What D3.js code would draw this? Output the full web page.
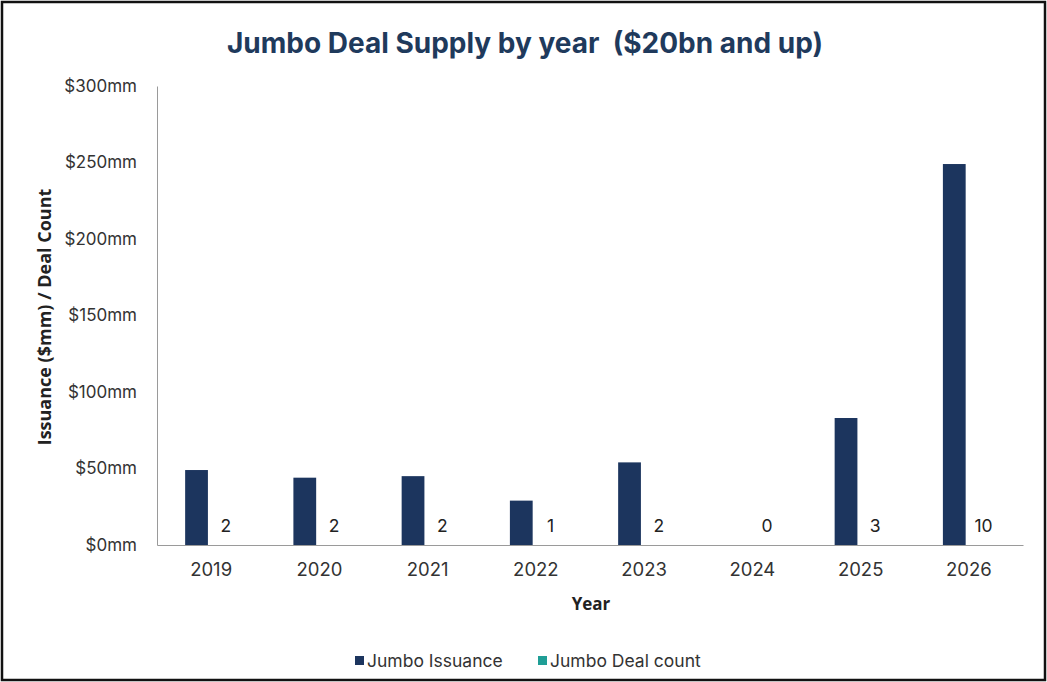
<!DOCTYPE html>
<html><head><meta charset="utf-8">
<script src="https://cdn.jsdelivr.net/npm/d3@7/dist/d3.min.js"></script>
<style>
html,body{margin:0;padding:0;background:#fff;}
svg{display:block;}
</style></head>
<body>
<svg id="chart" width="1047" height="682"></svg>
<script>
const years = ["2019","2020","2021","2022","2023","2024","2025","2026"];
const issuance = [49, 44, 45, 29, 54, 0, 83, 249];
const dealCount = [2, 2, 2, 1, 2, 0, 3, 10];
const yTicks = [0, 50, 100, 150, 200, 250, 300];
const seriesNames = ["Jumbo Issuance", "Jumbo Deal count"];
const seriesColors = ["#1c355e", "#1f9e96"];

const svg = d3.select("#chart");
const W = 1047, H = 682;
const m = {left: 157, right: 24, top: 86, bottom: 137};
const font = "Inter, 'Open Sans', sans-serif";
const font2 = "'Open Sans', Inter, sans-serif";

svg.append("rect").attr("x",2).attr("y",2).attr("width",W-4).attr("height",H-4)
  .attr("fill","#fff").attr("stroke","#111").attr("stroke-width",2.5);

const x = d3.scaleBand().domain(years).range([m.left, W - m.right]).paddingInner(0.52).paddingOuter(0.26);
const xs = d3.scaleBand().domain([0,1]).range([0, x.bandwidth()]).paddingInner(0.22);
const y = d3.scaleLinear().domain([0, 300]).range([H - m.bottom, m.top]);

// title
svg.append("text").attr("x", 525).attr("y", 53).attr("text-anchor","middle")
  .attr("font-family", font).attr("font-weight", 700).attr("font-size", 28)
  .attr("fill", "#1f3a5c").style("white-space","pre")
  .text("Jumbo Deal Supply by year  ($20bn and up)");

// y axis
const yAxis = svg.append("g").attr("transform", `translate(${m.left},0)`)
  .call(d3.axisLeft(y).tickValues(yTicks).tickSize(0).tickPadding(20).tickFormat(d => "$" + d + "mm"));
yAxis.select(".domain").attr("stroke", "#9a9a9a").attr("stroke-width", 1);
yAxis.selectAll("text").attr("font-family", font).attr("font-size", 17).attr("fill", "#333");

// x axis
const xAxis = svg.append("g").attr("transform", `translate(0,${y(0)})`)
  .call(d3.axisBottom(x).tickSize(0).tickPadding(18));
xAxis.select(".domain").attr("stroke", "#9a9a9a").attr("stroke-width", 1.2);
xAxis.selectAll("text").attr("font-family", font).attr("font-size", 18.5).attr("fill", "#333");

// bars
svg.append("g").selectAll("rect").data(years).join("rect")
  .attr("x", d => x(d) + xs(0))
  .attr("width", xs.bandwidth())
  .attr("y", (d,i) => y(issuance[i]))
  .attr("height", (d,i) => y(0) - y(issuance[i]))
  .attr("fill", seriesColors[0]);

// deal count labels (inside base)
svg.append("g").selectAll("text").data(years).join("text")
  .attr("x", d => x(d) + xs(1) + xs.bandwidth()/2)
  .attr("y", y(0) - 13)
  .attr("text-anchor", "middle")
  .attr("font-family", font).attr("font-size", 17.5).attr("fill", "#222")
  .text((d,i) => dealCount[i]);

// axis titles
svg.append("text").attr("x", 591).attr("y", 610).attr("text-anchor","middle")
  .attr("font-family", font2).attr("font-weight", 700).attr("font-size", 17).attr("fill","#222")
  .text("Year");
svg.append("text").attr("transform", "translate(51,317) rotate(-90)").attr("text-anchor","middle")
  .attr("font-family", font2).attr("font-weight", 700).attr("font-size", 18).attr("fill","#222")
  .text("Issuance ($mm) / Deal Count");

// legend
const lg = svg.append("g").attr("transform", "translate(0,661)");
const legendX = [355, 538];
seriesNames.forEach((n, i) => {
  lg.append("rect").attr("x", legendX[i]).attr("y", -5).attr("width", 9).attr("height", 9).attr("fill", seriesColors[i]);
  lg.append("text").attr("x", legendX[i] + 12).attr("y", 6)
    .attr("font-family", font).attr("font-size", 17.5).attr("fill", "#333").text(n);
});
</script>
</body></html>
